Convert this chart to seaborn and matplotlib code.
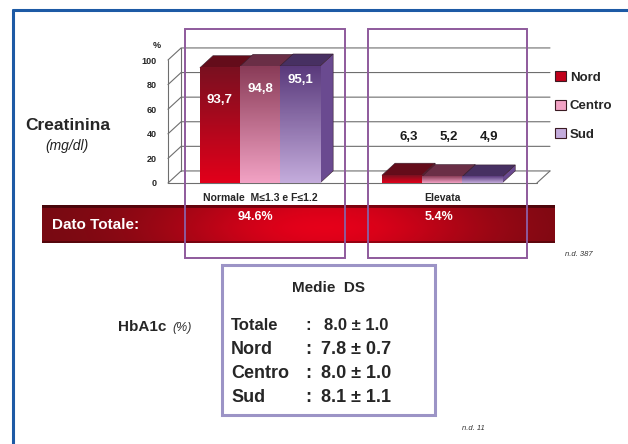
import numpy as np
import pandas as pd
import matplotlib
matplotlib.use('Agg')
import matplotlib.pyplot as plt
import seaborn as sns
from matplotlib.patches import Rectangle, Polygon, Patch
from matplotlib.lines import Line2D

# dati Creatinina (%)
categorie = ['Normale  M≤1.3 e F≤1.2', 'Elevata']
aree = ['Nord', 'Centro', 'Sud']
nord = [93.7, 6.3]
centro = [94.8, 5.2]
sud = [95.1, 4.9]
dato_totale = [94.6, 5.4]

# dati HbA1c
hba_labels = ['Totale', 'Nord', 'Centro', 'Sud']
hba_media = [8.0, 7.8, 8.0, 8.1]
hba_ds = [1.0, 0.7, 1.0, 1.1]

df = pd.DataFrame({
    'categoria': categorie * 3,
    'area': [a for a in aree for _ in categorie],
    'valore': nord + centro + sud,
})

sns.set_style('white')
plt.rcParams['font.family'] = ['Liberation Sans', 'DejaVu Sans']

W, H = 628, 444
def px(x, y):
    return x / W, 1 - y / H

fig = plt.figure(figsize=(6.28, 4.44), dpi=100)
fig.patch.set_facecolor('white')

# bordo blu
fig.add_artist(Line2D([13 / W, 13 / W], [0, 1 - 10 / H], color='#1d5aa5', lw=2.2, transform=fig.transFigure))
fig.add_artist(Line2D([13 / W, 1], [1 - 10 / H, 1 - 10 / H], color='#1d5aa5', lw=2.2, transform=fig.transFigure))

# --- grafico a barre ---
ax = fig.add_axes([168 / W, 1 - 183 / H, 382 / W, 123 / H])
front = {'Nord': ('#7a1020', '#e2001a'), 'Centro': ('#8a3c58', '#f2a2c4'), 'Sud': ('#5a3a7c', '#c4acdc')}
tops = {'Nord': '#640c1a', 'Centro': '#6a2e46', 'Sud': '#473062'}
sides = {'Nord': '#8a1422', 'Centro': '#7a3a58', 'Sud': '#6a4a90'}

sns.barplot(data=df, x='categoria', y='valore', hue='area', hue_order=aree,
            order=categorie, width=0.66, saturation=1, legend=False, ax=ax,
            palette=[front[a][1] for a in aree])
ax.set_xlim(-0.505, 1.593)
ax.set_ylim(0, 100)
x0, x1 = ax.get_xlim()
dx, dy = 0.072, 9.8

# parete 3D e griglia
g = dict(color='#6e6e6e', lw=0.8, zorder=0.5, clip_on=False)
for v in range(0, 101, 20):
    ax.plot([x0, x0 + dx, x1], [v, v + dy, v + dy], **g)
ax.plot([x0, x0], [0, 100], **g)
ax.plot([x0 + dx, x0 + dx], [dy, 100 + dy], **g)
ax.plot([x0, x1 - dx], [0, 0], **g)
ax.plot([x1 - dx, x1], [0, dy], **g)

grad = np.linspace(0, 1, 100).reshape(-1, 1)
label_drop = [26, 18, 11]
z = 2
for area, cont, drop in zip(aree, ax.containers, label_drop):
    cmap = matplotlib.colors.LinearSegmentedColormap.from_list(area, [front[area][1], front[area][0]])
    for i, bar in enumerate(cont):
        x, w, h = bar.get_x(), bar.get_width(), bar.get_height()
        side = Polygon([(x + w, 0), (x + w + dx, dy), (x + w + dx, h + dy), (x + w, h)],
                       closed=True, fc=sides[area], ec='#3a2030', lw=0.4, zorder=z, clip_on=False)
        top = Polygon([(x, h), (x + w, h), (x + w + dx, h + dy), (x + dx, h + dy)],
                      closed=True, fc=tops[area], ec='#3a2030', lw=0.4, zorder=z, clip_on=False)
        ax.add_patch(side)
        ax.add_patch(top)
        bar.set_zorder(z + 0.5)
        bar.set_edgecolor('#4a2030')
        bar.set_linewidth(0.4)
        im = ax.imshow(grad, extent=(x, x + w, 0, h), cmap=cmap, aspect='auto',
                       origin='lower', zorder=z + 0.6, clip_on=False)
        im.set_clip_path(bar)
        txt = f'{h:.1f}'.replace('.', ',')
        if h > 50:
            ax.text(x + w / 2, h - drop, txt, ha='center', va='center', color='white',
                    fontsize=9.5, fontweight='bold', zorder=10)
        else:
            ax.text(x + w / 2 + dx / 2, 37, txt, ha='center', va='center', color='#1a1a1a',
                    fontsize=9.5, fontweight='bold', zorder=10)
        z += 1

ax.set_xlim(x0, x1)
ax.set_ylim(0, 100)
ax.set_yticks(range(0, 101, 20))
ax.set_yticklabels([str(v) for v in range(0, 101, 20)], fontsize=6.5, fontweight='bold')
ax.tick_params(axis='y', length=0, pad=8)
ax.tick_params(axis='x', length=0, pad=7)
ax.set_xticks(range(len(categorie)))
ax.set_xticklabels(categorie, fontsize=7.5, fontweight='bold')
ax.set_xlabel('')
ax.set_ylabel('')
sns.despine(ax=ax, left=True, bottom=True)
ax.patch.set_alpha(0)
fig.text(*px(153, 45), '%', fontsize=6.5, fontweight='bold', va='center')

fig.text(*px(25, 125), 'Creatinina', fontsize=12.5, fontweight='bold', va='center')
fig.text(*px(45, 146), '(mg/dl)', fontsize=10, style='italic', va='center', color='#222222')

# legenda
handles = [Patch(fc=front[a][1], ec='#3a1a22', lw=0.8) for a in aree]
handles[0].set_facecolor('#c0001a')
fig.legend(handles, aree, loc='upper left', bbox_to_anchor=px(550, 66), frameon=False,
           prop={'weight': 'bold', 'size': 9.5}, labelspacing=1.2, handlelength=0.8,
           handleheight=0.8, handletextpad=0.3, borderaxespad=0)

# banda rossa Dato Totale
bax = fig.add_axes([42 / W, 1 - 243 / H, 513 / W, 38 / H])
xs = np.linspace(0, 1, 400)
ys = np.linspace(0, 1, 40)
wx = np.exp(-((xs - 0.55) / 0.32) ** 2)
vy = 1 - 0.35 * np.abs(ys - 0.6) ** 1.5
mix = np.clip(np.outer(vy, wx), 0, 1)[..., None]
dark = np.array([0.45, 0.04, 0.07])
bright = np.array([0.90, 0.0, 0.10])
img = dark + (bright - dark) * mix
img[:3] = img[:3] * 0.6
img[-2:] = img[-2:] * 0.7
bax.imshow(img, aspect='auto', origin='upper', extent=(0, 1, 0, 1))
bax.set_axis_off()
fig.text(*px(52, 225), 'Dato Totale:', color='white', fontsize=11, fontweight='bold', va='center', zorder=6)
for xc, v in zip([255, 439], dato_totale):
    fig.text(*px(xc, 217), f'{v:.1f}%', color='white', fontsize=9, fontweight='bold',
             ha='center', va='center', zorder=6)

# riquadri viola
for xa, xb in [(185, 345), (368, 527)]:
    fig.add_artist(Rectangle(px(xa, 258), (xb - xa) / W, (258 - 29) / H, fill=False,
                             ec='#8e5a9c', lw=1.4, transform=fig.transFigure, zorder=5))
fig.text(*px(565, 254), 'n.d. 387', fontsize=5.5, style='italic', va='center', color='#333333')

# HbA1c
fig.add_artist(Rectangle(px(222, 415), 213 / W, 150 / H, fill=False, ec='#9c94c6', lw=2.2,
                         transform=fig.transFigure, zorder=5))
fig.text(*px(118, 327), 'HbA1c', fontsize=11, fontweight='bold', va='center')
fig.text(*px(172, 328), '(%)', fontsize=9, style='italic', va='center', color='#333333')
fig.text(*px(328, 288), 'Medie  DS', fontsize=11, fontweight='bold', ha='center', va='center')
for yy, lab, m, s in zip([325, 349, 373, 397], hba_labels, hba_media, hba_ds):
    fs = 12 if lab == 'Totale' else 13
    fig.text(*px(231, yy), lab, fontsize=fs, fontweight='bold', va='center')
    fig.text(*px(305, yy), ':', fontsize=fs, fontweight='bold', va='center')
    fig.text(*px(356, yy), f'{m:.1f} ± {s:.1f}', fontsize=fs, fontweight='bold', ha='center', va='center')
fig.text(*px(462, 428), 'n.d. 11', fontsize=5.5, style='italic', va='center', color='#333333')

fig.savefig('out.png', dpi=100)
